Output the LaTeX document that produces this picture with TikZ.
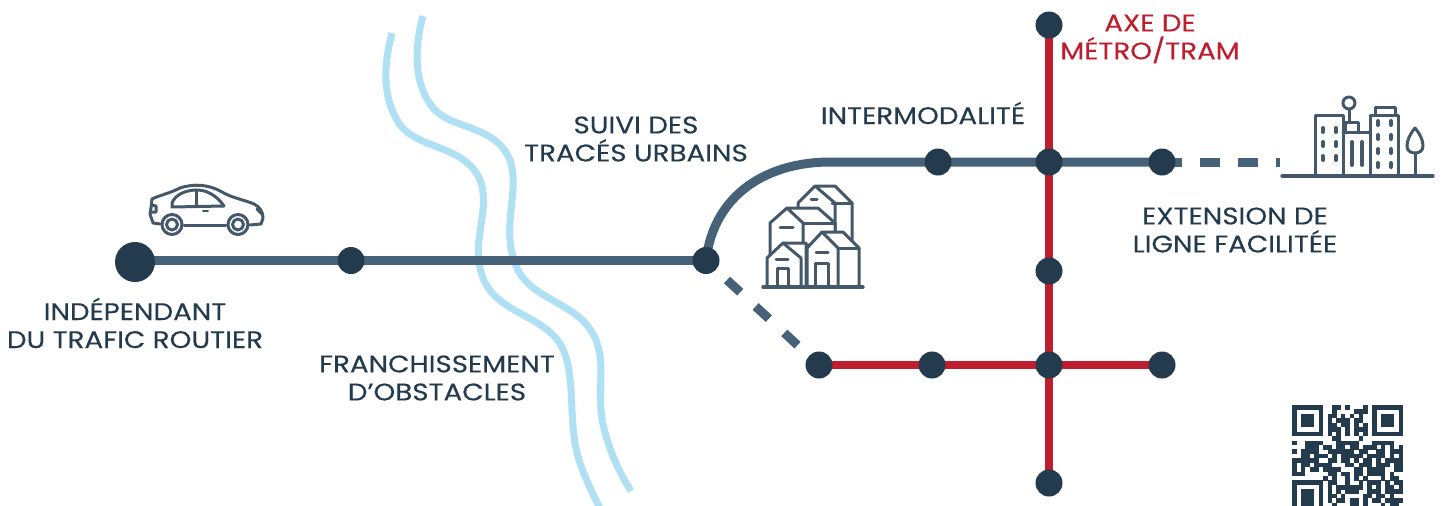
\documentclass[tikz,border=0pt]{standalone}
\usepackage{fontspec}
\usetikzlibrary{backgrounds}
\setmainfont{Poppins}[FakeStretch=1.155,FakeBold=0.25]
\definecolor{navy}{HTML}{243B4E}
\definecolor{steel}{HTML}{466279}
\definecolor{metro}{HTML}{BE1E2D}
\definecolor{river}{HTML}{B0E0F4}
\tikzset{
 station/.style={circle,fill=navy,draw=none,minimum size=27pt,inner sep=0pt},
 bigstation/.style={circle,fill=navy,draw=none,minimum size=40pt,inner sep=0pt},
 busline/.style={draw=steel,line width=9pt},
 busdashh/.style={draw=steel,line width=9pt,dash pattern=on 20pt off 18pt},
 busdashd/.style={draw=steel,line width=9pt,dash pattern=on 18pt off 21pt},
 tramline/.style={draw=metro,line width=8pt},
 riverline/.style={draw=river,line width=7pt,line join=round},
 icon/.style={draw=navy!85!white,line width=3pt,line join=round,line cap=round,fill=none},
 iconw/.style={draw=navy!85!white,line width=3pt,line join=round,line cap=round,fill=white},
 lab/.style={align=center,text=navy,inner sep=0pt,font=\fontsize{24}{28}\selectfont},
 labr/.style={lab,text=metro},
}
\newcount\qrc
\def\qrm{4.44}
\def\qrscan#1{\ifx#1;\else\ifx#1X\fill[navy] (\the\qrc*\qrm,\qrrowval*\qrm) rectangle ++(\qrm+0.15,\qrm+0.15);\fi\advance\qrc by 1 \expandafter\qrscan\fi}
\begin{document}
\begin{tikzpicture}[x=1pt,y=-1pt]
\useasboundingbox (0,0) rectangle (1441,506);
% stations
\node[bigstation] (a) at (135,262) {};
\node[station] (b) at (351,260.5) {};
\node[station] (c) at (706,260.5) {};
\node[station] (d) at (938,162) {};
\node[station] (e) at (1049,162) {};
\node[station] (f) at (1162,162) {};
\node[station] (g) at (1049,25) {};
\node[station] (h) at (1049,271) {};
\node[station] (i) at (1049,365) {};
\node[station] (j) at (1049,483) {};
\node[station] (k) at (819,365) {};
\node[station] (l) at (932,365) {};
\node[station] (m) at (1162,365) {};
\coordinate (fe) at (1280,162);
\begin{pgfonlayer}{background}
\fill[white] (0,0) rectangle (1441,506);
\draw[riverline] (392,33) .. controls (385,60) and (380,95) .. (400,125) .. controls (420,150) and (465,145) .. (480,180) .. controls (490,205) and (475,235) .. (479,262) .. controls (485,310) and (530,310) .. (555,337) .. controls (580,365) and (565,420) .. (580,463) .. controls (586,480) and (594,497) .. (602,512);
\draw[riverline] (423,16) .. controls (415,45) and (412,85) .. (435,110) .. controls (455,130) and (495,125) .. (510,160) .. controls (520,190) and (502,225) .. (514,260) .. controls (525,300) and (575,300) .. (593,334) .. controls (610,365) and (592,395) .. (607,439) .. controls (612,457) and (622,477) .. (631,491);
\draw[tramline] (g.center) -- (j.center);
\draw[tramline] (k.center) -- (m.center);
\draw[busline] (a.center |- b.center) -- (b.center) -- (c.center);
\draw[busline] (c.center) .. controls (714,192) and (770,162) .. (830,162) -- (d.center) -- (e.center) -- (f.center);
\draw[busdashh] (f.center) -- (fe);
\draw[busdashd] (c.center) ++(21,19.5) -- (k.center);
\end{pgfonlayer}
% labels
\node[lab] (t1) at (135,323) {INDÉPENDANT\\DU TRAFIC ROUTIER};
\node[lab] (t2) at (437,378) {FRANCHISSEMENT\\D’OBSTACLES};
\node[lab] (t3) at (636,139) {SUIVI DES\\TRACÉS URBAINS};
\node[lab] (t4) at (923,113) {INTERMODALITÉ};
\node[labr] (t5) at (1150,39) {AXE DE\\MÉTRO/TRAM};
\node[lab] (t6) at (1235,230) {EXTENSION DE\\LIGNE FACILITÉE};
% car
\draw[icon] (151,208) -- (152,199) .. controls (160,195) and (168,194) .. (180,188) .. controls (195,183) and (210,185) .. (222,192) .. controls (232,198) and (245,200) .. (254,204) .. controls (260,207) and (263,212) .. (263,218) -- (261,224) -- (250,225);
\draw[icon] (226,225) -- (184,225);
\draw[icon] (160,224) -- (153,223) -- (150,214) -- (151,208);
\draw[icon] (172,203) .. controls (175,195) and (185,190) .. (197,190) .. controls (208,190) and (218,197) .. (224,206) -- (172,207) -- cycle;
\draw[icon] (196,190) -- (196,206);
\draw[icon,line width=2pt] (203,210.5) -- (208,210.5);
\draw[icon] (152,205) -- (156,206) -- (156,212) -- (151,212);
\draw[icon] (257,209) -- (262,214);
\foreach \x in {172,238}{\draw[icon] (\x,224.5) circle (10pt); \draw[icon] (\x,224.5) circle (5.5pt);}
% houses
\draw[iconw] (798,212) -- (798,203) -- (815,186) -- (835,186) -- (852,203) -- (852,247) -- (835,247) -- (835,203) -- (815,186);
\draw[icon] (832,203) -- (852,203);
\draw[icon] (811,199) -- (817,199);
\draw[iconw] (770,256) -- (770,223) -- (787,208) -- (818,208) -- (835,223) -- (835,245) -- (803,245) -- (803,223) -- (787,208);
\draw[icon] (803,223) -- (835,223);
\draw[icon] (780,227) -- (793,227);
\draw[iconw] (767,287) -- (767,258) -- (783,243) -- (806,243) -- (806,287);
\draw[icon] (783,243) -- (801,258) -- (801,287);
\draw[icon] (776,259) -- (788,259);
\draw[icon] (777,287) -- (777,268) -- (788,268) -- (788,287);
\draw[iconw] (807,287) -- (807,248) -- (822,232) -- (843,232) -- (859,248) -- (859,287);
\draw[icon] (822,232) -- (838,248) -- (838,287);
\draw[icon] (838,248) -- (859,248);
\draw[icon] (816,252) -- (828,252);
\draw[icon] (815,287) -- (815,263) -- (828,263) -- (828,287);
\draw[icon,line width=3.4pt] (763,287) -- (863,287);
% city
\draw[icon] (1315,176) -- (1315,115) -- (1343,115) -- (1343,176);
\draw[icon] (1370,176) -- (1370,115) -- (1398,115) -- (1398,176);
\draw[icon] (1375,115) -- (1375,107) -- (1395,107) -- (1395,115);
\draw[icon] (1343,132) -- (1370,132);
\draw[icon] (1345,132) -- (1345,122) -- (1358,122) -- (1358,132);
\draw[icon] (1349,122) -- (1349,109);
\draw[icon] (1349,103) circle (6pt);
\foreach \x in {1323,1336}\foreach \y in {130,144,158}{\draw[icon,line width=4pt] (\x,\y-2) -- (\x,\y+2);}
\foreach \x in {1378,1391}\foreach \y in {123,137,151,165}{\draw[icon,line width=4pt] (\x,\y-2) -- (\x,\y+2);}
\foreach \x in {1352,1362}{\draw[icon,line width=4pt] (\x,142) -- (\x,165);}
\draw[icon] (1415,128) .. controls (1410,134) and (1407,140) .. (1407,146) .. controls (1407,151) and (1411,153) .. (1415,153) .. controls (1419,153) and (1423,151) .. (1423,146) .. controls (1423,140) and (1420,134) .. (1415,128) -- cycle;
\draw[icon] (1415,153) -- (1415,176);
\draw[icon,line width=3.4pt] (1282,176) -- (1433,176);
% QR
\begin{scope}[shift={(1292,405)}]
\foreach \qrrowval/\bits in {
0/XXXXXXXooXXoXoooXoXXXXXXX,
1/XoooooXooXooooXXXoXoooooX,
2/XoXXXoXoXXoXoXoXooXoXXXoX,
3/XoXXXoXoXoXXXoXXooXoXXXoX,
4/XoXXXoXoXXoXXoXoXoXoXXXoX,
5/XoooooXoXXXoXoXXXoXoooooX,
6/XXXXXXXoXoXoXoXoXoXXXXXXX,
7/oooooooooXXooooXooooooooo,
8/XooXXXXoooXXXXXoooXXXXXoo,
9/oooXXXoXXoXXoXXoXXXoXoXoX,
10/XoXXXXooXXXXXXoXXooXXoXXX,
11/ooXXoXXXoXoXXXXXoXXXXoXoX,
12/XXXXXXooXXoXXoXoXXoXoXXXX,
13/XoXXoXXXXoooXXoXXXoXXXoXX,
14/XoXoXXoXXXXoooXXoXXXXooXX,
15/XXXoooooXXoXXoXXoXXXXoXoo,
16/oooooooXoXooXoXoXoooXoXXo,
17/XXXXXXXoXXooXooXoXXXoXoXX,
18/XoooooXoXoXXXXXXoXoXoXXoX,
19/XoXXXoXoXoXoXXXooXXXoXXXX,
20/XoXXXoXoXXoXooooXXoXXoXoo,
21/XoXXXoXoXoXXoXXoXoXXoXXXX,
22/XoXXXoXooXoooXXoXoooXoXXo}{
 \qrc=0 \expandafter\qrscan\bits;
}
\end{scope}
\end{tikzpicture}
\end{document}
